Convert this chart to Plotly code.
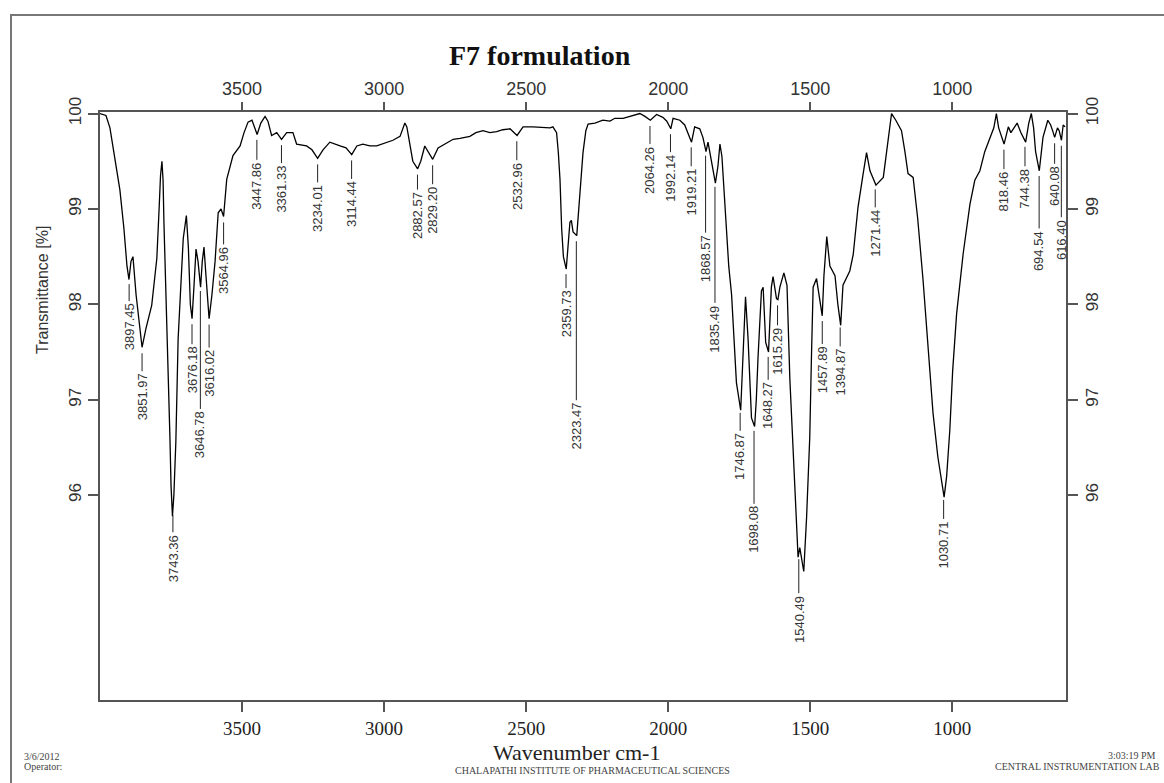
import numpy as np
import plotly.graph_objects as go

# ---------------- data ----------------
wavenumber = [4000, 3979, 3965, 3947, 3930, 3916, 3905, 3898, 3891, 3884, 3873, 3852, 3838, 3818, 3800,
              3792, 3787, 3782, 3778, 3775, 3768, 3760, 3754, 3750, 3745, 3740, 3733, 3725, 3715, 3707,
              3696, 3689, 3682, 3676, 3669, 3662, 3655, 3646, 3640, 3634, 3627, 3616, 3606, 3595, 3584,
              3574, 3565, 3554, 3532, 3507, 3493, 3479, 3465, 3447, 3434, 3419, 3409, 3396, 3378, 3361,
              3343, 3321, 3308, 3273, 3254, 3234, 3215, 3191, 3155, 3134, 3114, 3096, 3075, 3050, 3026,
              3004, 2969, 2944, 2934, 2927, 2920, 2909, 2899, 2882, 2871, 2857, 2846, 2829, 2810, 2786,
              2757, 2733, 2698, 2677, 2652, 2628, 2604, 2582, 2557, 2532, 2511, 2476, 2441, 2416, 2406,
              2393, 2387, 2381, 2375, 2369, 2359, 2352, 2346, 2341, 2335, 2322, 2317, 2311, 2300, 2290,
              2282, 2258, 2230, 2205, 2188, 2159, 2135, 2114, 2100, 2082, 2063, 2041, 2019, 2005, 1991,
              1983, 1959, 1942, 1931, 1918, 1907, 1889, 1878, 1867, 1860, 1848, 1834, 1825, 1818, 1811,
              1804, 1795, 1787, 1777, 1769, 1760, 1745, 1737, 1728, 1719, 1707, 1696, 1690, 1684, 1672,
              1666, 1657, 1647, 1637, 1631, 1619, 1614, 1607, 1593, 1582, 1572, 1554, 1543, 1537, 1530,
              1523, 1513, 1502, 1496, 1490, 1478, 1470, 1458, 1452, 1442, 1431, 1413, 1403, 1393, 1385,
              1361, 1349, 1332, 1315, 1302, 1290, 1269, 1243, 1227, 1214, 1199, 1179, 1167, 1156, 1138,
              1122, 1103, 1086, 1068, 1051, 1029, 1020, 1009, 999, 985, 962, 938, 921, 903, 886,
              868, 854, 845, 837, 818, 803, 794, 786, 772, 759, 742, 731, 722, 714, 707,
              694, 681, 664, 654, 646, 640, 630, 624, 616, 610, 603]

transmittance = [100.0, 99.98, 99.85, 99.5, 99.2, 98.8, 98.4, 98.26, 98.45, 98.5, 98.1, 97.55, 97.75, 97.99, 98.48,
                 99.0, 99.35, 99.5, 99.3, 98.86, 98.1, 97.5, 96.62, 96.1, 95.78, 96.0, 96.56, 97.64, 98.3, 98.69,
                 98.93, 98.6, 98.0, 97.85, 98.2, 98.58, 98.45, 98.18, 98.45, 98.6, 98.3, 97.85, 98.1, 98.45, 98.96,
                 99.0, 98.92, 99.31, 99.56, 99.66, 99.8, 99.91, 99.93, 99.78, 99.9, 99.97, 99.92, 99.77, 99.8, 99.73,
                 99.8, 99.8, 99.68, 99.66, 99.62, 99.53, 99.62, 99.7, 99.66, 99.64, 99.57, 99.66, 99.68, 99.66, 99.66,
                 99.68, 99.72, 99.76, 99.85, 99.9, 99.86, 99.68, 99.5, 99.42, 99.5, 99.66, 99.6, 99.52, 99.64, 99.68,
                 99.73, 99.74, 99.76, 99.8, 99.82, 99.8, 99.81, 99.83, 99.84, 99.77, 99.86, 99.86, 99.85, 99.85, 99.86,
                 99.8, 99.6, 99.31, 98.79, 98.5, 98.37, 98.6, 98.86, 98.88, 98.76, 98.72, 98.9, 99.14, 99.59, 99.82,
                 99.89, 99.9, 99.93, 99.92, 99.95, 99.95, 99.97, 99.99, 100.0, 99.97, 99.93, 99.99, 99.96, 99.92, 99.84,
                 99.95, 99.93, 99.88, 99.8, 99.7, 99.86, 99.84, 99.75, 99.6, 99.7, 99.5, 99.27, 99.45, 99.68, 99.55,
                 99.2, 98.77, 98.4, 98.1, 97.7, 97.18, 96.89, 97.44, 98.08, 97.64, 96.81, 96.72, 97.0, 97.44, 98.14,
                 98.18, 97.6, 97.5, 98.18, 98.29, 98.06, 98.05, 98.18, 98.33, 98.2, 97.22, 96.1, 95.35, 95.45, 95.3,
                 95.2, 95.77, 96.6, 97.44, 98.18, 98.27, 98.1, 97.88, 98.3, 98.71, 98.4, 98.3, 98.0, 97.78, 98.2,
                 98.35, 98.52, 99.02, 99.35, 99.59, 99.4, 99.25, 99.33, 99.7, 100.0, 99.93, 99.82, 99.6, 99.37, 99.33,
                 98.9, 98.25, 97.6, 96.86, 96.4, 95.98, 96.2, 96.68, 97.3, 97.9, 98.53, 99.05, 99.3, 99.4, 99.6,
                 99.73, 99.85, 100.0, 99.85, 99.68, 99.86, 99.8, 99.84, 99.9, 99.8, 99.7, 99.9, 100.0, 99.85, 99.6,
                 99.4, 99.75, 99.93, 99.88, 99.81, 99.75, 99.85, 99.82, 99.72, 99.88, 99.86]

peak_wavenumbers = [3897.45, 3851.97, 3743.36, 3676.18, 3646.78, 3616.02, 3564.96, 3447.86, 3361.33,
                    3234.01, 3114.44, 2882.57, 2829.20, 2532.96, 2359.73, 2323.47, 2064.26, 1992.14,
                    1919.21, 1868.57, 1835.49, 1746.87, 1698.08, 1648.27, 1615.29, 1540.49, 1457.89,
                    1394.87, 1271.44, 1030.71, 818.46, 744.38, 694.54, 640.08, 616.40]

x_ticks = [3500, 3000, 2500, 2000, 1500, 1000]
y_ticks = [96, 97, 98, 99, 100]

# ---------------- layout / styling ----------------
W, H = 1164, 783
ML, MR, MT, MB = 100, 98, 112, 83
PW, PH = W - ML - MR, H - MT - MB

# label offsets (px below the peak point to the label centre)
label_offsets = [49, 50, 49, 52, 150, 55, 54, 52, 50, 50, 50, 47, 51, 51, 46, 191, 50, 50,
                 51, 109, 148, 50, 105, 55, 52, 66, 55, 51, 50, 51, 48, 48, 81, 49, 100]


def px_x(p):
    return (p - ML) / PW


def px_y(p):
    return (H - MB - p) / PH


SANS = "Liberation Sans, Arial, sans-serif"
SERIF = "Liberation Serif, Times New Roman, serif"
AXC = "#555555"

fig = go.Figure()
fig.add_trace(go.Scatter(x=wavenumber, y=transmittance, mode="lines",
                         line=dict(color="black", width=1.3), showlegend=False, hoverinfo="skip"))
# invisible trace so that top / right axes are drawn
fig.add_trace(go.Scatter(x=[wavenumber[0]], y=[transmittance[0]], xaxis="x2", yaxis="y2",
                         mode="markers", marker=dict(opacity=0), showlegend=False, hoverinfo="skip"))

xr = [4000, 600]
yr = [93.853, 100.016]
common_x = dict(range=xr, tickvals=x_ticks, ticks="outside", tickcolor=AXC, tickwidth=1.5,
                showline=True, linecolor=AXC, linewidth=1.5, showgrid=False, zeroline=False)
common_y = dict(range=yr, tickvals=y_ticks, ticks="outside", ticklen=10, tickcolor=AXC, tickwidth=1.5,
                showline=True, linecolor=AXC, linewidth=1.5, showgrid=False, zeroline=False,
                tickangle=-90, tickfont=dict(family=SANS, size=17, color="#333"))

fig.update_layout(
    width=W, height=H, margin=dict(l=ML, r=MR, t=MT, b=MB),
    paper_bgcolor="white", plot_bgcolor="white", showlegend=False,
    xaxis=dict(**common_x, ticklen=10, tickfont=dict(family=SERIF, size=19, color="#222")),
    xaxis2=dict(**common_x, overlaying="x", side="top", ticklen=8,
                tickfont=dict(family=SANS, size=18, color="#333")),
    yaxis=dict(**common_y, side="left"),
    yaxis2=dict(**common_y, overlaying="y", side="right"),
)

# outer frame
fig.add_shape(type="rect", xref="paper", yref="paper",
              x0=px_x(11), y0=px_y(15), x1=px_x(1200), y1=px_y(820),
              line=dict(color="#777", width=2), fillcolor="rgba(0,0,0,0)", layer="below")

wn_asc = np.array(wavenumber[::-1], dtype=float)
tr_asc = np.array(transmittance[::-1], dtype=float)
for w, off in zip(peak_wavenumbers, label_offsets):
    yv = float(np.interp(w, wn_asc, tr_asc))
    fig.add_annotation(x=w, y=yv, xref="x", yref="y", text=f"{w:.2f}", textangle=-90,
                       showarrow=True, arrowhead=0, arrowwidth=1, arrowcolor="#222",
                       ax=0, ay=off, standoff=6, borderpad=2,
                       font=dict(family=SANS, size=13, color="#333"))

texts = [
    dict(text="<b>F7 formulation</b>", x=540, y=55, size=28, family=SERIF, color="#111", xa="center"),
    dict(text="Wavenumber cm-1", x=576, y=752, size=22, family=SERIF, color="#222", xa="center"),
    dict(text="3/6/2012", x=22, y=756, size=10, family=SERIF, color="#444", xa="left"),
    dict(text="Operator:", x=22, y=766, size=10, family=SERIF, color="#444", xa="left"),
    dict(text="CHALAPATHI INSTITUTE OF PHARMACEUTICAL SCIENCES", x=592, y=770, size=10,
         family=SERIF, color="#444", xa="center"),
    dict(text="3:03:19 PM", x=1158, y=755, size=10, family=SERIF, color="#444", xa="right"),
    dict(text="CENTRAL INSTRUMENTATION LAB", x=1162, y=766, size=10, family=SERIF, color="#444", xa="right"),
]
for t in texts:
    fig.add_annotation(text=t["text"], x=px_x(t["x"]), y=px_y(t["y"]), xref="paper", yref="paper",
                       showarrow=False, xanchor=t["xa"], yanchor="middle",
                       font=dict(family=t["family"], size=t["size"], color=t["color"]))

fig.add_annotation(text="Transmittance [%]", x=px_x(42), y=px_y(290), xref="paper", yref="paper",
                   showarrow=False, textangle=-90, xanchor="center", yanchor="middle",
                   font=dict(family=SANS, size=16, color="#333"))

fig.write_html("out.html", config={"displayModeBar": False},
               post_script="document.body.style.margin='0';document.body.style.overflow='hidden';")
